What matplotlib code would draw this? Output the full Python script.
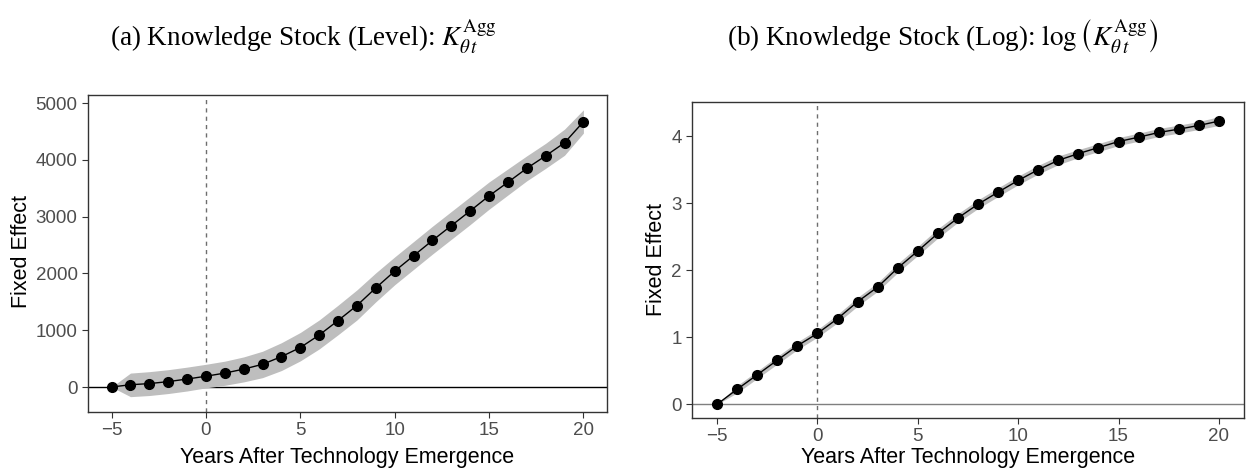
import matplotlib
matplotlib.use("Agg")
import matplotlib.pyplot as plt

years = list(range(-5, 21))

level = [0, 40, 60, 95, 140, 190, 245, 315, 400, 535, 695, 915, 1170, 1435,
         1745, 2040, 2310, 2580, 2840, 3100, 3365, 3605, 3850, 4070, 4300, 4670]
level_lo = [0, -170, -150, -115, -70, -15, 30, 90, 165, 290, 460, 670, 920, 1180,
            1500, 1800, 2070, 2340, 2600, 2860, 3130, 3380, 3630, 3850, 4080, 4470]
level_hi = [0, 245, 270, 305, 350, 400, 455, 530, 630, 780, 960, 1180, 1440, 1710,
            2010, 2290, 2560, 2830, 3090, 3350, 3610, 3840, 4070, 4290, 4540, 4880]

logk = [0, 0.224, 0.44, 0.658, 0.873, 1.057, 1.277, 1.53, 1.749, 2.033, 2.287, 2.55,
        2.78, 2.985, 3.165, 3.34, 3.50, 3.64, 3.74, 3.83, 3.92, 3.985, 4.055, 4.105,
        4.16, 4.225]
logk_lo = [0, 0.17, 0.385, 0.60, 0.815, 1.0, 1.215, 1.465, 1.685, 1.965, 2.22, 2.48,
           2.715, 2.92, 3.10, 3.275, 3.435, 3.575, 3.68, 3.77, 3.86, 3.925, 3.995,
           4.045, 4.10, 4.16]
logk_hi = [0, 0.28, 0.495, 0.715, 0.93, 1.115, 1.34, 1.595, 1.815, 2.10, 2.355, 2.62,
           2.845, 3.05, 3.23, 3.405, 3.565, 3.705, 3.80, 3.89, 3.98, 4.045, 4.115,
           4.165, 4.22, 4.29]

xticks = [-5, 0, 5, 10, 15, 20]
level_yticks = [0, 1000, 2000, 3000, 4000, 5000]
log_yticks = [0, 1, 2, 3, 4]

title_a = r"(a) Knowledge Stock (Level): $K_{\theta\,t}^{\mathrm{Agg}}$"
title_b = r"(b) Knowledge Stock (Log): $\log\left(K_{\theta\,t}^{\mathrm{Agg}}\right)$"
xlabel = "Years After Technology Emergence"
ylabel = "Fixed Effect"

plt.rcParams['mathtext.fontset'] = 'stix'
W, H = 1247, 471
fig = plt.figure(figsize=(W / 100, H / 100), dpi=100)

def px_axes(x0, x1, y0, y1):
    return fig.add_axes([x0 / W, 1 - y1 / H, (x1 - x0) / W, (y1 - y0) / H])

ax1 = px_axes(88, 607, 95, 412)
ax2 = px_axes(692, 1244, 102, 418)

tick_color = "#4D4D4D"
sans = "Liberation Sans"

def style(ax, zero_color):
    ax.axhline(0, color=zero_color, lw=1.0, zorder=1)
    ax.axvline(0, color="#6E6E6E", lw=1.0, ls=(0, (3, 3)), zorder=1)
    for s in ax.spines.values():
        s.set_color("#333333")
        s.set_linewidth(1.0)
    ax.tick_params(axis="both", colors="#333333", labelcolor=tick_color,
                   labelsize=13.5, length=4, width=0.8, direction="out")
    ax.set_xticks(xticks)
    ax.set_xlim(-6.25, 21.25)

ax1.fill_between(years, level_lo, level_hi, color="#BEBEBE", lw=0, zorder=2)
ax1.plot(years, level, color="black", lw=1.0, marker="o", ms=7, zorder=3)
ax1.set_yticks(level_yticks)
ax1.set_ylim(-440, 5141)
style(ax1, "black")

ax2.fill_between(years, logk_lo, logk_hi, color="#BEBEBE", lw=0, zorder=2)
ax2.plot(years, logk, color="black", lw=1.0, marker="o", ms=7, zorder=3)
ax2.set_yticks(log_yticks)
ax2.set_ylim(-0.205, 4.51)
style(ax2, "#7F7F7F")

for ax in (ax1, ax2):
    for lab in ax.get_xticklabels() + ax.get_yticklabels():
        lab.set_fontfamily(sans)

# axis labels
fig.text(22 / W, 1 - 252 / H, ylabel, rotation=90, ha="center", va="center",
         fontsize=15.5, family=sans)
fig.text(657 / W, 1 - 260 / H, ylabel, rotation=90, ha="center", va="center",
         fontsize=15.5, family=sans)
fig.text(347 / W, 1 - 457 / H, xlabel, ha="center", va="center",
         fontsize=15.5, family=sans)
fig.text(968 / W, 1 - 457 / H, xlabel, ha="center", va="center",
         fontsize=15.5, family=sans)

# panel titles
fig.text(303 / W, 1 - 37 / H, title_a, ha="center", va="center",
         fontsize=19.5, family="Liberation Serif")
fig.text(943 / W, 1 - 37 / H, title_b, ha="center", va="center",
         fontsize=19.5, family="Liberation Serif")

fig.savefig("out.png", dpi=100)
